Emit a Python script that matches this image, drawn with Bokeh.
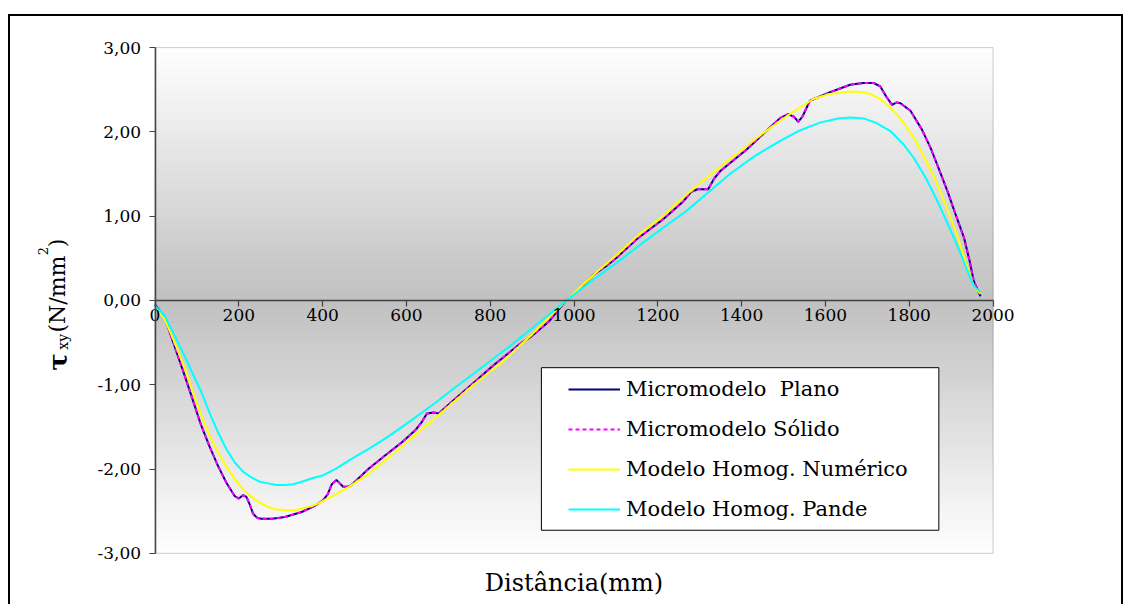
import numpy as np
from math import pi
from bokeh.plotting import figure
from bokeh.models import (Range1d, FixedTicker, LinearAxis, Legend, LegendItem,
                          Label, BoxAnnotation)
from bokeh.embed import file_html
from bokeh.resources import INLINE

# ---------------- data ----------------
x_micro = [0, 22, 45, 70, 90, 110, 130, 150, 170, 190, 200, 210, 218, 226, 234, 244,
           254, 280, 310, 350, 380, 401, 412, 422, 433, 441, 449, 460, 469, 509, 549,
           590, 621, 637, 649, 665, 677, 709, 760, 805, 850, 870, 900, 940, 981, 1020,
           1045, 1060, 1080, 1100, 1150, 1212, 1260, 1280, 1295, 1320, 1335, 1350, 1412,
           1450, 1491, 1511, 1525, 1535, 1545, 1563, 1611, 1659, 1690, 1715, 1731, 1745,
           1759, 1770, 1779, 1803, 1830, 1851, 1870, 1891, 1910, 1931, 1945, 1954, 1970]
y_plano = [-0.05, -0.19, -0.52, -0.88, -1.18, -1.48, -1.73, -1.96, -2.16, -2.32, -2.35,
           -2.31, -2.33, -2.42, -2.53, -2.58, -2.59, -2.59, -2.57, -2.51, -2.44, -2.37,
           -2.30, -2.18, -2.13, -2.17, -2.21, -2.21, -2.19, -2.00, -1.84, -1.68, -1.54,
           -1.44, -1.34, -1.33, -1.34, -1.20, -0.98, -0.78, -0.60, -0.52, -0.42, -0.25,
           0.00, 0.17, 0.30, 0.35, 0.42, 0.50, 0.73, 0.96, 1.17, 1.29, 1.32, 1.32, 1.45,
           1.54, 1.79, 1.97, 2.16, 2.21, 2.18, 2.12, 2.18, 2.37, 2.47, 2.56, 2.58, 2.58,
           2.54, 2.42, 2.32, 2.35, 2.34, 2.25, 2.03, 1.81, 1.57, 1.30, 1.03, 0.74, 0.45,
           0.23, 0.05]
y_solido = [-0.05, -0.19, -0.52, -0.88, -1.18, -1.48, -1.73, -1.96, -2.16, -2.32, -2.35,
            -2.31, -2.33, -2.42, -2.53, -2.58, -2.59, -2.59, -2.57, -2.51, -2.44, -2.37,
            -2.30, -2.18, -2.13, -2.17, -2.21, -2.21, -2.19, -2.00, -1.84, -1.68, -1.54,
            -1.44, -1.34, -1.33, -1.34, -1.20, -0.98, -0.78, -0.60, -0.52, -0.42, -0.25,
            0.00, 0.17, 0.30, 0.35, 0.42, 0.50, 0.73, 0.96, 1.17, 1.29, 1.32, 1.32, 1.45,
            1.54, 1.79, 1.97, 2.16, 2.21, 2.18, 2.12, 2.18, 2.37, 2.47, 2.56, 2.58, 2.58,
            2.54, 2.42, 2.32, 2.35, 2.34, 2.25, 2.03, 1.81, 1.57, 1.30, 1.03, 0.74, 0.45,
            0.23, 0.05]

x_numerico = [0, 22, 45, 70, 90, 110, 130, 150, 170, 190, 210, 230, 250, 270, 290, 310,
              330, 350, 380, 405, 440, 469, 509, 549, 590, 629, 670, 709, 760, 829, 900,
              981, 1050, 1100, 1150, 1212, 1260, 1308, 1360, 1412, 1450, 1491, 1530, 1571,
              1610, 1659, 1690, 1707, 1730, 1755, 1785, 1811, 1840, 1867, 1890, 1914, 1935,
              1954, 1970]
y_numerico = [-0.08, -0.21, -0.48, -0.79, -1.08, -1.36, -1.60, -1.80, -1.97, -2.12, -2.24,
              -2.33, -2.40, -2.45, -2.48, -2.49, -2.49, -2.47, -2.43, -2.37, -2.28, -2.19,
              -2.06, -1.90, -1.73, -1.56, -1.39, -1.22, -1.00, -0.73, -0.40, 0.00, 0.32,
              0.53, 0.76, 1.00, 1.22, 1.42, 1.63, 1.83, 1.98, 2.13, 2.26, 2.39, 2.45, 2.48,
              2.47, 2.45, 2.39, 2.29, 2.12, 1.93, 1.66, 1.38, 1.09, 0.78, 0.45, 0.17, 0.08]

x_pande = [0, 22, 45, 70, 90, 110, 130, 150, 170, 190, 210, 230, 250, 270, 290, 310, 330,
           350, 375, 398, 430, 469, 510, 549, 590, 629, 670, 709, 760, 805, 850, 900, 940,
           981, 1050, 1100, 1150, 1212, 1268, 1320, 1372, 1430, 1491, 1540, 1587, 1630,
           1659, 1691, 1720, 1755, 1785, 1811, 1840, 1867, 1890, 1914, 1935, 1954, 1970]
y_pande = [-0.07, -0.17, -0.40, -0.65, -0.87, -1.08, -1.33, -1.56, -1.76, -1.92, -2.03,
           -2.10, -2.15, -2.17, -2.19, -2.19, -2.18, -2.15, -2.11, -2.08, -2.00, -1.88,
           -1.76, -1.64, -1.50, -1.36, -1.21, -1.06, -0.87, -0.70, -0.53, -0.33, -0.17,
           0.00, 0.26, 0.44, 0.63, 0.86, 1.06, 1.28, 1.50, 1.71, 1.89, 2.02, 2.11, 2.16,
           2.17, 2.16, 2.11, 2.01, 1.86, 1.69, 1.45, 1.18, 0.93, 0.66, 0.40, 0.17, 0.10]

series_names = ["Micromodelo  Plano", "Micromodelo Sólido",
                "Modelo Homog. Numérico", "Modelo Homog. Pande"]
x_ticks = [0, 200, 400, 600, 800, 1000, 1200, 1400, 1600, 1800, 2000]
y_ticks = [-3, -2, -1, 0, 1, 2, 3]
y_tick_labels = ["-3,00", "-2,00", "-1,00", "0,00", "1,00", "2,00", "3,00"]
x_title = "Distância(mm)"

# ---------------- layout helpers (page pixels -> data) ----------------
FONT = "DejaVu Serif"
PX0, PY0 = 154.0, 299.0          # page pixel of (0, 0)
SX, SY = 835.0 / 2000.0, 84.0    # pixels per data unit


def dx(px):
    return (px - PX0) / SX


def dy(py):
    return (PY0 - py) / SY


# the canvas spans page x 10..1121 and page y 16..604; the frame fills it
p = figure(width=1115, height=590,
           x_range=Range1d(dx(10), dx(1121)), y_range=Range1d(dy(604), dy(16)),
           output_backend="svg", toolbar_location=None,
           x_axis_location=None, y_axis_location=None,
           min_border_left=0, min_border_right=0, min_border_top=0,
           min_border_bottom=0)
p.styles = {"margin-left": "8px", "margin-top": "14px",
            "border-top": "2px solid black", "border-left": "2px solid black",
            "border-right": "2px solid black"}
p.outline_line_color = None
p.background_fill_color = "white"
p.border_fill_color = "white"
p.center = [c for c in p.center if c.__class__.__name__ != "Grid"]

# background gradient of the plot area (white - grey - white)
edges = np.linspace(-3, 3, 121)
bots, tops = edges[:-1], edges[1:]
mids = (bots + tops) / 2
gv = np.round(192 + 63 * np.abs(mids) / 3).astype(int)
gcols = ["#%02x%02x%02x" % (v, v, v) for v in gv]
p.quad(left=0, right=2000, bottom=bots, top=tops, fill_color=gcols,
       line_color=gcols, line_width=1)

# series
r1 = p.line(x_micro, y_plano, line_color="#000080", line_width=2)
r2 = p.line(x_micro, y_solido, line_color="#FF00FF", line_width=2, line_dash="4 3")
r3 = p.line(x_numerico, y_numerico, line_color="#FFFF00", line_width=2)
r4 = p.line(x_pande, y_pande, line_color="#00FFFF", line_width=2)

# plot-area outline
p.add_layout(BoxAnnotation(left=0, right=2000, top=3, bottom=-3, fill_alpha=0,
                           line_color="#606060", line_width=1))

# axes (y axis at x=0, x axis crossing at y=0)
yaxis = LinearAxis(ticker=FixedTicker(ticks=y_ticks), fixed_location=0, bounds=(-3, 3))
yaxis.major_label_overrides = {t: s for t, s in zip(y_ticks, y_tick_labels)}
xaxis = LinearAxis(ticker=FixedTicker(ticks=x_ticks), fixed_location=0, bounds=(0, 2000))
for ax in (xaxis, yaxis):
    ax.axis_line_color = "#404040"
    ax.axis_line_width = 1.5
    ax.major_tick_line_color = "#404040"
    ax.major_tick_line_width = 1.2
    ax.major_tick_out = 6
    ax.major_tick_in = 0
    ax.minor_tick_out = 0
    ax.minor_tick_in = 0
    ax.major_label_text_font = FONT
    ax.major_label_text_font_size = "17px"
    ax.major_label_text_color = "black"
yaxis.major_label_standoff = 8
xaxis.major_label_standoff = 3
p.add_layout(yaxis, "left")
p.add_layout(xaxis, "below")

# x title
p.add_layout(Label(x=1000, y=dy(581), text=x_title, text_align="center",
                   text_baseline="middle", text_font=FONT, text_font_size="24px",
                   text_color="black"))

# legend box + legend
p.add_layout(BoxAnnotation(left=dx(539), right=dx(935), top=dy(366), bottom=dy(528),
                           fill_color="white", fill_alpha=1.0,
                           line_color="black", line_width=1, line_alpha=1.0))
legend = Legend(items=[LegendItem(label=n, renderers=[r])
                       for n, r in zip(series_names, [r1, r2, r3, r4])],
                location=(558, 85), border_line_color=None,
                background_fill_alpha=0, label_text_font=FONT,
                label_text_font_size="21px", label_text_color="black",
                glyph_width=52, glyph_height=24, label_height=24, spacing=16,
                padding=0, margin=0, label_standoff=6)
p.add_layout(legend)


# y-axis title built from pieces: tau_xy (N/mm^2)
def ylab(text, px, py, size, style="normal"):
    p.add_layout(Label(x=dx(px), y=dy(py), text=text, angle=pi / 2,
                       text_align="left", text_baseline="alphabetic",
                       text_font=FONT, text_font_size=size,
                       text_font_style=style, text_color="black"))


ylab("τ", 57, 369, "26px", "bold")
ylab("xy", 62, 348, "14px")
ylab("(N/mm", 57, 331, "22px")
ylab("2", 42, 254, "13px")
ylab(")", 57, 246, "22px")

open("out.html", "w").write(file_html(p, INLINE))
